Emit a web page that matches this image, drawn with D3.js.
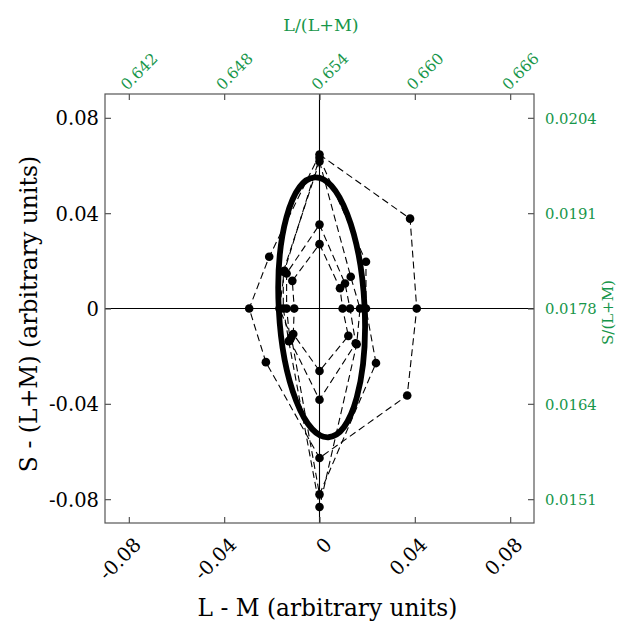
<!DOCTYPE html>
<html>
<head>
<meta charset="utf-8">
<script src="https://cdn.jsdelivr.net/npm/d3@7"></script>
<style>
  html, body { margin: 0; padding: 0; background: #fff; }
  svg { display: block; }
  svg text { font-family: "DejaVu Serif", "Liberation Serif", serif !important; }
</style>
</head>
<body>
<svg id="chart" width="620" height="625"></svg>
<script>
// ---------------- data ----------------
// each loop: [L-M, S-(L+M)] ordered top, upper-right, right, lower-right, bottom, lower-left, left, upper-left
const loop1 = [[0, 0.0270], [0.0086, 0.0085], [0.0097, 0], [0.0121, -0.0115], [0, -0.0262], [-0.0110, -0.0107], [-0.0106, 0], [-0.0114, 0.0116]];
const loop2 = [[0, 0.0352], [0.0107, 0.0105], [0.0128, 0], [0.0152, -0.0146], [0, -0.0383], [-0.0124, -0.0132], [-0.0138, 0], [-0.0138, 0.0147]];
const loop3 = [[0, 0.0617], [0.0131, 0.0133], [0.0170, 0], [0.0156, -0.0150], [0, -0.0833], [-0.0129, -0.0137], [-0.0152, 0], [-0.0152, 0.0154]];
const loop4 = [[0, 0.0632], [0.0195, 0.0196], [0.0195, 0], [0.0237, -0.0229], [0, -0.0780], [-0.0118, -0.0120], [-0.0168, 0], [-0.0147, 0.0158]];
const loop5 = [[0, 0.0646], [0.0380, 0.0377], [0.0408, 0], [0.0368, -0.0365], [0, -0.0627], [-0.0225, -0.0225], [-0.0295, 0], [-0.0211, 0.0217]];
const loops = [loop1, loop2, loop3, loop4, loop5];

// fitted ellipse: centre (L-M, S-(L+M)), semi-axes, tilt in degrees
const ellipseCentre = [0.0009, 0.0005];
const ellipseSemiAxes = [0.0180, 0.0546];
const ellipseTilt = -3;

const xTicks = [-0.08, -0.04, 0, 0.04, 0.08];
const xTickLabels = ["-0.08", "-0.04", "0", "0.04", "0.08"];
const yTicks = [-0.08, -0.04, 0, 0.04, 0.08];
const yTickLabels = ["-0.08", "-0.04", "0", "0.04", "0.08"];
const topTickLabels = ["0.642", "0.648", "0.654", "0.660", "0.666"];
const rightTickLabels = ["0.0151", "0.0164", "0.0178", "0.0191", "0.0204"];

const xTitle = "L - M (arbitrary units)";
const yTitle = "S - (L+M) (arbitrary units)";
const topTitle = "L/(L+M)";
const rightTitle = "S/(L+M)";

// ---------------- layout ----------------
const green = "#17964a";
const frame = "#555";
const L = 105, R = 534, T = 94, B = 523;
const FONT = '"DejaVu Serif", "Liberation Serif", serif';

const svg = d3.select("#chart");
const x = d3.scaleLinear().domain([-0.09, 0.09]).range([L, R]);
const y = d3.scaleLinear().domain([-0.09, 0.09]).range([B, T]);

// zero lines
svg.append("line").attr("x1", x(0)).attr("x2", x(0)).attr("y1", T).attr("y2", B)
  .attr("stroke", "#000").attr("stroke-width", 1.1);
svg.append("line").attr("x1", L).attr("x2", R).attr("y1", y(0)).attr("y2", y(0))
  .attr("stroke", "#000").attr("stroke-width", 1.1);

// dashed loops
const line = d3.line().x(d => x(d[0])).y(d => y(d[1])).curve(d3.curveLinearClosed);
svg.append("g").selectAll("path").data(loops).join("path")
  .attr("d", line).attr("fill", "none").attr("stroke", "#000")
  .attr("stroke-width", 1.1).attr("stroke-dasharray", "7,4");

// ellipse
svg.append("ellipse")
  .attr("cx", 0).attr("cy", 0)
  .attr("rx", x(ellipseSemiAxes[0]) - x(0))
  .attr("ry", y(0) - y(ellipseSemiAxes[1]))
  .attr("transform", `translate(${x(ellipseCentre[0])},${y(ellipseCentre[1])}) rotate(${ellipseTilt})`)
  .attr("fill", "none").attr("stroke", "#000").attr("stroke-width", 5.8);

// points
svg.append("g").selectAll("circle").data(loops.flat()).join("circle")
  .attr("cx", d => x(d[0])).attr("cy", d => y(d[1])).attr("r", 4.3).attr("fill", "#000");

// frame
svg.append("rect").attr("x", L).attr("y", T).attr("width", R - L).attr("height", B - T)
  .attr("fill", "none").attr("stroke", frame).attr("stroke-width", 1.2);

function styleAxis(g, color) {
  g.attr("font-family", FONT);
  g.select(".domain").remove();
  g.selectAll(".tick line").attr("stroke", frame).attr("stroke-width", 1.2);
  g.selectAll(".tick text").attr("fill", color);
}

// bottom axis
const gB = svg.append("g").attr("transform", `translate(0,${B})`)
  .call(d3.axisBottom(x).tickValues(xTicks).tickSize(-6).tickFormat((d, i) => xTickLabels[i]));
styleAxis(gB, "#000");
gB.selectAll(".tick text").attr("font-size", 19.5).attr("y", null).attr("dy", null)
  .attr("text-anchor", "end").attr("transform", "translate(13,23) rotate(-45)");

// left axis
const gL = svg.append("g").attr("transform", `translate(${L},0)`)
  .call(d3.axisLeft(y).tickValues(yTicks).tickSize(-6).tickPadding(6).tickFormat((d, i) => yTickLabels[i]));
styleAxis(gL, "#000");
gL.selectAll(".tick text").attr("font-size", 19.5).attr("dy", "0.36em");

// top axis (secondary)
const gT = svg.append("g").attr("transform", `translate(0,${T})`)
  .call(d3.axisTop(x).tickValues(xTicks).tickSize(-6).tickFormat((d, i) => topTickLabels[i]));
styleAxis(gT, green);
gT.selectAll(".tick text").attr("font-size", 15.5).attr("y", null).attr("dy", null)
  .attr("text-anchor", "start").attr("transform", "translate(-2,-3) rotate(-45)");

// right axis (secondary)
const gR = svg.append("g").attr("transform", `translate(${R},0)`)
  .call(d3.axisRight(y).tickValues(yTicks).tickSize(-6).tickPadding(11).tickFormat((d, i) => rightTickLabels[i]));
styleAxis(gR, green);
gR.selectAll(".tick text").attr("font-size", 14.8).attr("dy", "0.36em");

// titles
svg.append("text").attr("x", 327.5).attr("y", 616).attr("text-anchor", "middle")
  .attr("font-family", FONT).attr("font-size", 23.3).attr("fill", "#000").text(xTitle);
svg.append("text").attr("transform", "translate(37,314) rotate(-90)").attr("text-anchor", "middle")
  .attr("font-family", FONT).attr("font-size", 23.5).attr("fill", "#000").text(yTitle);
svg.append("text").attr("x", 321).attr("y", 31).attr("text-anchor", "middle")
  .attr("font-family", FONT).attr("font-size", 17.5).attr("fill", green).text(topTitle);
svg.append("text").attr("transform", "translate(613,312.5) rotate(-90)").attr("text-anchor", "middle")
  .attr("font-family", FONT).attr("font-size", 15).attr("fill", green).text(rightTitle);
</script>
</body>
</html>
